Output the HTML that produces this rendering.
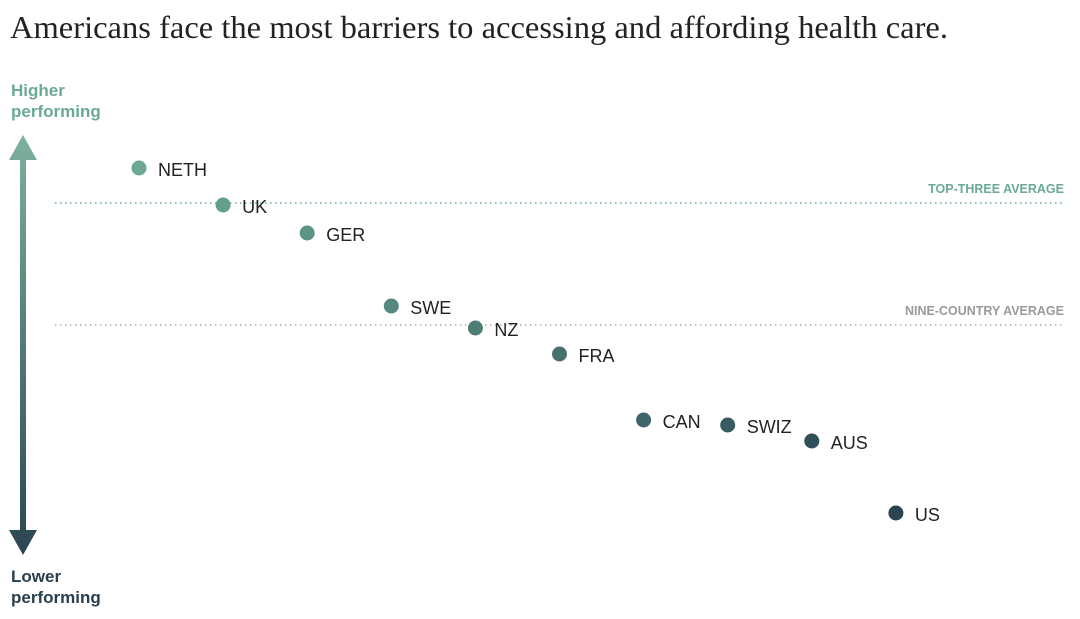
<!DOCTYPE html>
<html><head><meta charset="utf-8"><style>
body{margin:0;background:#fff;width:1080px;height:614px;overflow:hidden}
svg text{font-family:"Liberation Sans",sans-serif}
</style></head><body>
<svg width="1080" height="614">
<defs><linearGradient id="ag" x1="0" y1="0" x2="0" y2="1"><stop offset="0" stop-color="#7db19c"/><stop offset="1" stop-color="#2b4452"/></linearGradient></defs>
<text x="10" y="38" font-size="32" textLength="938" lengthAdjust="spacingAndGlyphs" fill="#222" style="font-family:'Liberation Serif',serif">Americans face the most barriers to accessing and affording health care.</text>
<text x="11" y="96" font-size="17" font-weight="bold" fill="#6aaa94">Higher</text>
<text x="11" y="117" font-size="17" font-weight="bold" fill="#6aaa94">performing</text>
<text x="11" y="582" font-size="17" font-weight="bold" fill="#2a3f4d">Lower</text>
<text x="11" y="603" font-size="17" font-weight="bold" fill="#2a3f4d">performing</text>
<path d="M23 135 L37 160 L26 160 L26 530 L37 530 L23 555 L9 530 L20 530 L20 160 L9 160 Z" fill="url(#ag)"/>
<g id="g"></g>
</svg>
<script>
const countries=["NETH","UK","GER","SWE","NZ","FRA","CAN","SWIZ","AUS","US"];
const scores=[3.45,3.08,2.80,2.07,1.85,1.59,0.93,0.88,0.72,0.00];
const avgLabels=["TOP-THREE AVERAGE","NINE-COUNTRY AVERAGE"];
const avgValues=[3.10,1.88];
const yScale=v=>513-v*100;
const xScale=i=>139+i*84.1;
const ns="http://www.w3.org/2000/svg",g=document.getElementById("g");
function mk(t,a){const e=document.createElementNS(ns,t);for(const k in a)e.setAttribute(k,a[k]);g.appendChild(e);return e;}
const avgColors=["#6aaa94","#9a9a9a"];
avgValues.forEach((v,i)=>{
 const l=mk("line",{x1:55,x2:1064,y1:yScale(v),y2:yScale(v),stroke:i?"#b5c4c0":"#8fc2ae","stroke-width":2,"stroke-dasharray":"1.5 3.5"});
 
 
 const t=mk("text",{x:1064,y:yScale(v)-10,"text-anchor":"end","font-size":12.5,"font-weight":"bold",fill:avgColors[i]});
 t.textContent=avgLabels[i];
 
 
});
function col(t){const a=[106,170,148],b=[42,68,82];return "rgb("+a.map((c,k)=>Math.round(c+(b[k]-c)*t)).join(",")+")";}
countries.forEach((c,i)=>{
 const y=yScale(scores[i]);
 const d=mk("circle",{cx:xScale(i),cy:y,r:7.5,fill:col(i/9)});
 
 
 const t=mk("text",{x:xScale(i)+19,y:y+8,"font-size":18,fill:"#222"});
 t.textContent=c;
 
 
});
</script>
</body></html>
